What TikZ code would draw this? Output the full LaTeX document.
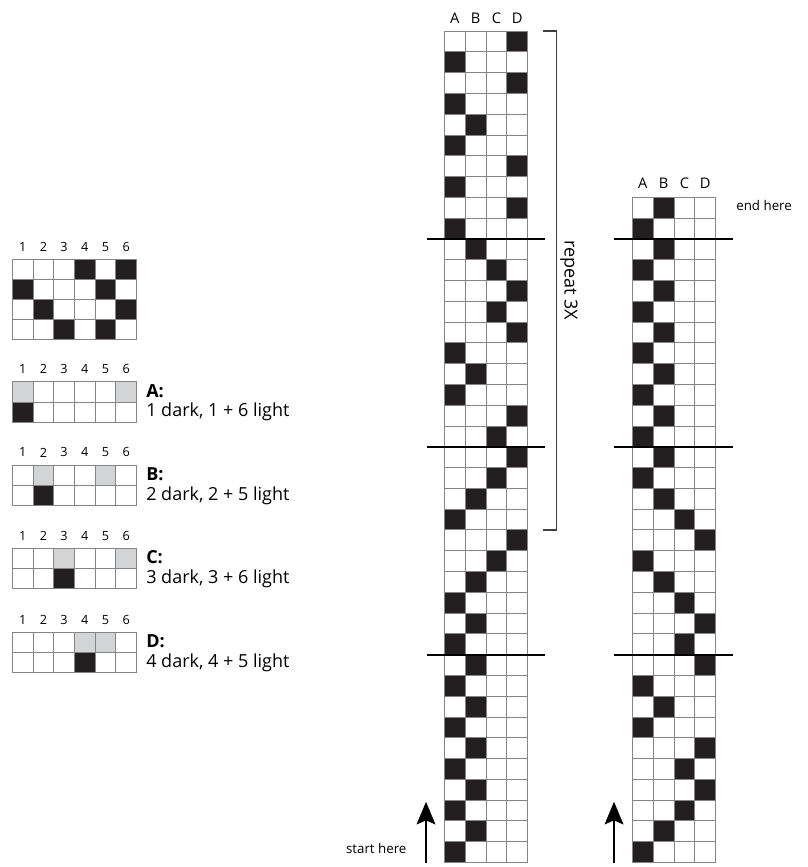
\documentclass[tikz,border=0pt]{standalone}
\usepackage{fontspec}
\setmainfont{Open Sans}
\usetikzlibrary{arrows.meta}

\definecolor{scuro}{HTML}{231F20}
\definecolor{chiaro}{HTML}{D3D4D5}
\definecolor{griglia}{HTML}{858585}

\begin{document}
\begin{tikzpicture}[x=0.75pt, y=-0.75pt]
	% Stili
	\tikzset{
		scura/.style={fill=scuro},
		chiara/.style={fill=chiaro},
		linee/.style={draw=griglia, line width=0.65pt},
		separa/.style={line width=1.3pt},
		parentesi/.style={draw=black!75, line width=0.8pt},
		lettera/.style={font=\fontsize{11}{13}\selectfont, inner sep=0pt},
		numero/.style={font=\fontsize{9.5}{11}\selectfont, inner sep=0pt},
		testo/.style={font=\fontsize{13.5}{16}\selectfont, inner sep=0pt},
		nota/.style={font=\fontsize{10}{12}\selectfont, inner sep=0pt},
		freccia/.style={line width=1.5pt, -{Stealth[length=17pt, width=14pt, inset=3pt]}}
	}
	\useasboundingbox (0,0) rectangle (807,867);

	% Colonna principale (40 righe)
	\begin{scope}[shift={(444.3,31)}, x=15.64pt, y=-15.59pt]
		\foreach \c [count=\r] in {4,1,4,1,2,1,4,1,4,1,2,3,4,3,4,1,2,1,4,3,4,3,2,1,4,3,2,1,2,1,2,1,2,1,2,1,2,1,2,1}
			\fill[scura] (\c-1,\r-1) rectangle (\c,\r);
		\foreach \i in {0,...,4} \draw[linee] (\i,0) -- (\i,40);
		\foreach \j in {0,...,40} \draw[linee] (0,\j) -- (4,\j);
		\foreach \l [count=\i] in {A,B,C,D}
			\node[lettera] (p\l) at (\i-0.5,-0.62) {\l};
	\end{scope}

	% Separatori colonna principale
	\foreach \yy in {238.9,446.8,654.7}
		\draw[separa] (427,\yy) -- (545,\yy);

	% Parentesi "repeat"
	\draw[parentesi] (543,31) -- (556.7,31) -- (556.7,530) -- (543,530);
	\node[testo, rotate=-90] (ripeti) at (569,280) {repeat 3X};

	% Colonna destra (32 righe)
	\begin{scope}[shift={(632.3,197.3)}, x=15.64pt, y=-15.59pt]
		\foreach \c [count=\r] in {2,1,2,1,2,1,2,1,2,1,2,1,2,1,2,3,4,1,2,3,4,3,4,1,2,1,4,3,4,3,2,1}
			\fill[scura] (\c-1,\r-1) rectangle (\c,\r);
		\foreach \i in {0,...,4} \draw[linee] (\i,0) -- (\i,32);
		\foreach \j in {0,...,32} \draw[linee] (0,\j) -- (4,\j);
		\foreach \l [count=\i] in {A,B,C,D}
			\node[lettera] (d\l) at (\i-0.5,-0.68) {\l};
	\end{scope}

	% Separatori colonna destra
	\foreach \yy in {238.9,446.8,654.7}
		\draw[separa] (614,\yy) -- (732.7,\yy);

	% Inizio e fine
	\coordinate (piede1) at (426,862.7);
	\coordinate (punta1) at (426,801.7);
	\draw[freccia] (piede1) -- (punta1);
	\node[nota, anchor=base east] (inizio) at (406.7,853) {start here};

	\coordinate (piede2) at (614,862.7);
	\coordinate (punta2) at (614,801.7);
	\draw[freccia] (piede2) -- (punta2);
	\node[nota, anchor=base west] (fine) at (736,210.5) {end here};

	% Schema a sinistra
	\begin{scope}[shift={(12.3,259)}, x=15.54pt, y=-15pt]
		\foreach \r/\c in {1/4,1/6,2/1,2/5,3/2,3/6,4/3,4/5}
			\fill[scura] (\c-1,\r-1) rectangle (\c,\r);
		\foreach \i in {0,...,6} \draw[linee] (\i,0) -- (\i,4);
		\foreach \j in {0,...,4} \draw[linee] (0,\j) -- (6,\j);
		\foreach \i in {1,...,6}
			\node[numero] (s\i) at (\i-0.5,-0.6) {\i};
	\end{scope}

	% Schemi A, B, C, D
	\foreach \nome/\yy/\scu/\chA/\chB/\descr in {A/381.7/1/1/6/{1 dark, 1 + 6 light},
			B/465/2/2/5/{2 dark, 2 + 5 light}, C/548.3/3/3/6/{3 dark, 3 + 6 light},
			D/632.3/4/4/5/{4 dark, 4 + 5 light}} {
		\begin{scope}[shift={(12.3,\yy)}, x=15.54pt, y=-15.2pt]
			\fill[chiara] (\chA-1,0) rectangle (\chA,1);
			\fill[chiara] (\chB-1,0) rectangle (\chB,1);
			\fill[scura] (\scu-1,1) rectangle (\scu,2);
			\foreach \i in {0,...,6} \draw[linee] (\i,0) -- (\i,2);
			\foreach \j in {0,...,2} \draw[linee] (0,\j) -- (6,\j);
			\foreach \i in {1,...,6}
				\node[numero] (n\nome\i) at (\i-0.5,-0.62) {\i};
		\end{scope}
		\node[testo, anchor=base west] (titolo\nome) at (146,\yy+15.5) {\textbf{\nome:}};
		\node[testo, anchor=base west] (descr\nome) at (146,\yy+35) {\descr};
	}
\end{tikzpicture}
\end{document}
